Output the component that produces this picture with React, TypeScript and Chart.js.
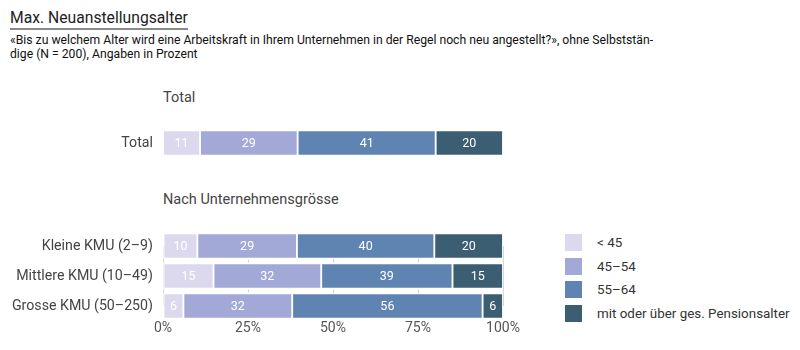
import React, { useEffect, useRef } from "react";
import { Chart, registerables } from "chart.js";

Chart.register(...registerables);

const seriesLabels = ["< 45", "45–54", "55–64", "mit oder über ges. Pensionsalter"];
const seriesColors = ["#dcd9ee", "#a3a9d6", "#5f84b1", "#3c5e73"];

const totalCategories = ["Total"];
const totalUnder45 = [11];
const total45to54 = [29];
const total55to64 = [41];
const totalPension = [20];

const sizeCategories = ["Kleine KMU (2–9)", "Mittlere KMU (10–49)", "Grosse KMU (50–250)"];
const sizeUnder45 = [10, 15, 6];
const size45to54 = [29, 32, 32];
const size55to64 = [40, 39, 56];
const sizePension = [20, 15, 6];

const xTickValues = [0, 25, 50, 75, 100];

const FONT = "Roboto, 'Liberation Sans', sans-serif";

function normalize(series: number[][]): number[][] {
  const n = series[0].length;
  const sums: number[] = [];
  for (let j = 0; j < n; j++) {
    let s = 0;
    for (const arr of series) s += arr[j];
    sums.push(s);
  }
  return series.map((arr) => arr.map((v, j) => (v / sums[j]) * 100));
}

const valueLabelPlugin = {
  id: "valueLabels",
  afterDatasetsDraw(chart: any) {
    const ctx = chart.ctx;
    ctx.save();
    ctx.font = `12.5px ${FONT}`;
    ctx.fillStyle = "#ffffff";
    ctx.textAlign = "center";
    ctx.textBaseline = "middle";
    chart.data.datasets.forEach((ds: any, i: number) => {
      const meta = chart.getDatasetMeta(i);
      meta.data.forEach((el: any, j: number) => {
        const raw = ds.rawValues[j];
        const cx = (el.x + el.base) / 2;
        ctx.fillText(String(raw), cx, el.y + 0.5);
      });
    });
    ctx.restore();
  },
};

function buildDatasets(series: number[][]) {
  const norm = normalize(series);
  return series.map((raw, i) => ({
    label: seriesLabels[i],
    data: norm[i],
    rawValues: raw,
    backgroundColor: seriesColors[i],
    borderColor: "#ffffff",
    borderWidth: { top: 2, bottom: 2, left: 1.25, right: 1.25 },
    borderSkipped: false,
    barThickness: 27,
    clip: false,
  }));
}

function StackedBar(props: {
  categories: string[];
  series: number[][];
  showAxis: boolean;
  style: React.CSSProperties;
  width: number;
  height: number;
}) {
  const ref = useRef<HTMLCanvasElement | null>(null);
  useEffect(() => {
    if (!ref.current) return;
    const { categories, series, showAxis } = props;
    const chart = new Chart(ref.current, {
      type: "bar",
      data: {
        labels: categories,
        datasets: buildDatasets(series) as any,
      },
      options: {
        indexAxis: "y",
        animation: false,
        responsive: false,
        maintainAspectRatio: false,
        layout: {
          padding: showAxis
            ? { top: 20, bottom: 12, left: 0, right: 27 }
            : { top: 0, bottom: 0, left: 0, right: 27 },
        },
        plugins: {
          legend: { display: false },
          tooltip: { enabled: false },
          title: { display: false },
        },
        scales: {
          x: {
            stacked: true,
            min: 0,
            max: 100,
            display: showAxis,
            border: { display: false },
            grid: {
              display: showAxis,
              drawTicks: false,
              color: "#d4d4d4",
              lineWidth: 1,
            },
            afterBuildTicks: (scale: any) => {
              scale.ticks = xTickValues.map((v) => ({ value: v }));
            },
            afterFit: (scale: any) => {
              if (showAxis) {
                scale.height = 32;
              }
              scale.paddingLeft = 0;
              scale.paddingRight = 0;
            },
            ticks: {
              padding: 14,
              color: "#555555",
              font: { family: FONT, size: 14 },
              maxRotation: 0,
              callback: (v: any) => `${v}%`,
            },
          },
          y: {
            stacked: true,
            offset: !showAxis,
            border: { display: false },
            grid: { display: false, drawTicks: false },
            afterFit: (scale: any) => {
              scale.width = 163;
              scale.paddingTop = 0;
              scale.paddingBottom = 0;
            },
            ticks: {
              padding: 10,
              color: "#444444",
              font: { family: FONT, size: 14.2 },
            },
          },
        },
      },
      plugins: [valueLabelPlugin],
    });
    return () => chart.destroy();
  }, []);
  return <canvas ref={ref} width={props.width} height={props.height} style={props.style} />;
}

export default function App() {
  const totalSeries = [totalUnder45, total45to54, total55to64, totalPension];
  const sizeSeries = [sizeUnder45, size45to54, size55to64, sizePension];
  return (
    <div
      style={{
        position: "absolute",
        left: 0,
        top: 0,
        width: 800,
        height: 350,
        background: "#ffffff",
        fontFamily: FONT,
        overflow: "hidden",
      }}
    >
      <div
        style={{
          position: "absolute",
          left: 10,
          top: 8,
          fontSize: 15.7,
          color: "#222",
          lineHeight: "19px",
          paddingBottom: 1,
          borderBottom: "2px solid #8a8a8a",
          whiteSpace: "nowrap",
        }}
      >
        Max. Neuanstellungsalter
      </div>
      <div
        style={{
          position: "absolute",
          left: 10,
          top: 34,
          fontSize: 12.2,
          lineHeight: "13.5px",
          color: "#111",
          whiteSpace: "nowrap",
        }}
      >
        «Bis zu welchem Alter wird eine Arbeitskraft in Ihrem Unternehmen in der Regel noch neu angestellt?», ohne Selbststän-
        <br />
        dige (N = 200), Angaben in Prozent
      </div>
      <div
        style={{
          position: "absolute",
          left: 163,
          top: 89,
          fontSize: 14.5,
          lineHeight: "18px",
          color: "#444",
        }}
      >
        Total
      </div>
      <div
        style={{
          position: "absolute",
          left: 163,
          top: 191,
          fontSize: 14.5,
          lineHeight: "18px",
          color: "#444",
          whiteSpace: "nowrap",
        }}
      >
        Nach Unternehmensgrösse
      </div>
      <StackedBar
        categories={totalCategories}
        series={totalSeries}
        showAxis={false}
        width={530}
        height={46}
        style={{ position: "absolute", left: 0, top: 120 }}
      />
      <StackedBar
        categories={sizeCategories}
        series={sizeSeries}
        showAxis={true}
        width={530}
        height={124}
        style={{ position: "absolute", left: 0, top: 226 }}
      />
      {seriesLabels.map((lab, i) => (
        <div
          key={lab}
          style={{
            position: "absolute",
            left: 565,
            top: 234 + i * 23.7,
            height: 17,
            display: "flex",
            alignItems: "center",
            whiteSpace: "nowrap",
          }}
        >
          <div style={{ width: 17, height: 17, background: seriesColors[i] }} />
          <div style={{ marginLeft: 15, fontSize: 13.4, color: "#333" }}>{lab}</div>
        </div>
      ))}
    </div>
  );
}
